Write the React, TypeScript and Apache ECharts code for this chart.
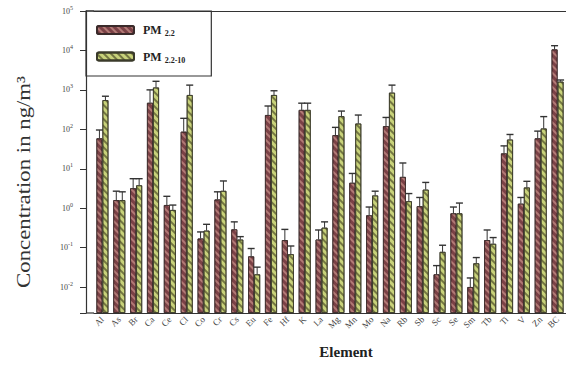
import React, { useEffect, useRef } from "react";
import * as echarts from "echarts";

const categories = ["Al","As","Br","Ca","Ce","Cl","Co","Cr","Cs","Eu","Fe","Hf","K","La","Mg","Mn","Mo","Na","Rb","Sb","Sc","Se","Sm","Tb","Ti","V","Zn","BC"];
const pm22 = [59, 1.6, 3.2, 470, 1.2, 87, 0.17, 1.66, 0.29, 0.06, 230, 0.155, 310, 0.16, 71, 4.4, 0.66, 120, 6.2, 1.12, 0.021, 0.74, 0.01, 0.155, 24.5, 1.3, 59, 10600];
const pm22Err = [96, 2.7, 5.6, 1000, 2.0, 190, 0.25, 2.6, 0.45, 0.095, 390, 0.29, 460, 0.28, 112, 7.6, 1.07, 200, 14, 1.87, 0.035, 1.07, 0.017, 0.28, 38, 1.87, 90, 13200];
const pm2210 = [550, 1.6, 3.8, 1150, 0.9, 740, 0.27, 2.75, 0.16, 0.021, 740, 0.068, 310, 0.32, 215, 140, 2.1, 850, 1.5, 2.95, 0.078, 0.74, 0.04, 0.125, 55, 3.35, 105, 1620];
const pm2210Err = [690, 2.6, 5.6, 1650, 1.2, 1320, 0.39, 4.9, 0.19, 0.032, 950, 0.11, 460, 0.45, 290, 230, 2.7, 1320, 2.35, 4.5, 0.115, 1.35, 0.056, 0.18, 74, 4.8, 210, 1780];
const seriesNames = ["PM2.2", "PM2.2-10"];

const SERIF = "'Liberation Serif', 'Times New Roman', serif";
const BAR_W = 6;
const Y_MIN = 0.0022;

function errorSeries(vals: number[], errs: number[], side: number) {
  return {
    type: "custom",
    z: 5,
    silent: true,
    data: vals.map((v, i) => [i, v, errs[i]]),
    encode: { x: 0, y: 2 },
    renderItem: (params: any, api: any) => {
      const i = api.value(0);
      const base = api.coord([i, api.value(1)]);
      const top = api.coord([i, api.value(2)]);
      const x = base[0] + side * BAR_W / 2;
      return {
        type: "group",
        children: [
          { type: "line", shape: { x1: x, y1: base[1], x2: x, y2: top[1] }, style: { stroke: "#333", lineWidth: 1 } },
          { type: "line", shape: { x1: x - 3.5, y1: top[1], x2: x + 3.5, y2: top[1] }, style: { stroke: "#333", lineWidth: 1.4 } },
        ],
      };
    },
  };
}

export default function App() {
  const ref = useRef<HTMLDivElement>(null);
  useEffect(() => {
    const chart = echarts.init(ref.current!, null, { renderer: "svg" });
    chart.setOption({
      animation: false,
      backgroundColor: "#fff",
      grid: { left: 94, right: 0, top: 11, bottom: 65 },
      legend: {
        data: seriesNames,
        orient: "vertical",
        left: 86,
        top: 11,
        padding: [13, 26, 12, 10],
        itemWidth: 37,
        itemHeight: 8,
        itemGap: 13,
        borderColor: "#333",
        borderWidth: 1.2,
        formatter: (n: string) => (n === "PM2.2" ? "{b|PM}{s|2.2}" : "{b|PM}{s|2.2-10}"),
        textStyle: {
          rich: {
            b: { fontFamily: SERIF, fontWeight: "bold", fontSize: 12, color: "#222", padding: [0, 0, 0, 4], lineHeight: 14 },
            s: { fontFamily: SERIF, fontWeight: "bold", fontSize: 8, color: "#222", padding: [7, 0, 0, 3] },
          },
        },
      },
      xAxis: [
        {
          type: "category",
          data: categories,
          position: "bottom",
          axisLine: { lineStyle: { color: "#333", width: 1.2 } },
          axisTick: { alignWithLabel: true, length: 3, lineStyle: { color: "#333" } },
          axisLabel: { rotate: 45, fontFamily: SERIF, fontSize: 9, color: "#444", margin: 5, interval: 0 },
        },
        {
          type: "category",
          data: categories,
          position: "top",
          axisLine: { lineStyle: { color: "#333", width: 1.2 } },
          axisTick: { show: false },
          axisLabel: { show: false },
        },
      ],
      yAxis: {
        type: "log",
        min: Y_MIN,
        max: 100000,
        startValue: Y_MIN,
        splitNumber: 10,
        offset: 8,
        splitLine: { show: false },
        axisLine: { show: true, lineStyle: { color: "#333", width: 1.2 } },
        axisTick: { show: true, length: 6, lineStyle: { color: "#333" } },
        axisLabel: {
          margin: 13,
          formatter: (v: number) => {
            const l = Math.log10(v);
            const r = Math.round(l);
            if (Math.abs(l - r) > 1e-6) return "";
            return `{b|10}{s|${r}}`;
          },
          rich: {
            b: { fontFamily: SERIF, fontSize: 8, color: "#444" },
            s: { fontFamily: SERIF, fontSize: 6, color: "#444", padding: [0, 0, 7, 0] },
          },
        },
      },
      series: [
        {
          name: seriesNames[0],
          type: "bar",
          data: pm22,
          barWidth: BAR_W,
          barGap: "0%",
          itemStyle: {
            color: "#7b4146",
            borderColor: "#3a2a2a",
            borderWidth: 0.8,
            decal: { symbol: "rect", symbolSize: 1, dashArrayX: [1, 0], dashArrayY: [1.5, 2.5], rotation: Math.PI / 4, color: "rgba(215,160,150,0.6)" },
          },
        },
        {
          name: seriesNames[1],
          type: "bar",
          data: pm2210,
          barWidth: BAR_W,
          barGap: "0%",
          itemStyle: {
            color: "#c8d27a",
            borderColor: "#3a3a2a",
            borderWidth: 0.8,
            decal: { symbol: "rect", symbolSize: 1, dashArrayX: [1, 0], dashArrayY: [1.5, 2.5], rotation: Math.PI / 4, color: "rgba(70,70,35,0.65)" },
          },
        },
        errorSeries(pm22, pm22Err, -1),
        errorSeries(pm2210, pm2210Err, 1),
      ],
      graphic: [
        { type: "line", shape: { x1: 86, y1: 11, x2: 94, y2: 11 }, style: { stroke: "#333", lineWidth: 1.2 } },
        { type: "line", shape: { x1: 86, y1: 313, x2: 94, y2: 313 }, style: { stroke: "#333", lineWidth: 1.2 } },
        {
          type: "text",
          x: 24,
          y: 182,
          rotation: Math.PI / 2,
          scaleX: 1.2,
          style: { text: "Concentration in ng/m³", font: `19px ${SERIF}`, fill: "#333", textAlign: "center", textVerticalAlign: "middle" },
        },
        {
          type: "text",
          x: 346,
          y: 352,
          style: { text: "Element", font: `bold 15px ${SERIF}`, fill: "#222", textAlign: "center", textVerticalAlign: "middle" },
        },
      ],
    });
    return () => chart.dispose();
  }, []);
  return <div ref={ref} style={{ width: 566, height: 378, position: "absolute", left: 0, top: 0 }} />;
}
